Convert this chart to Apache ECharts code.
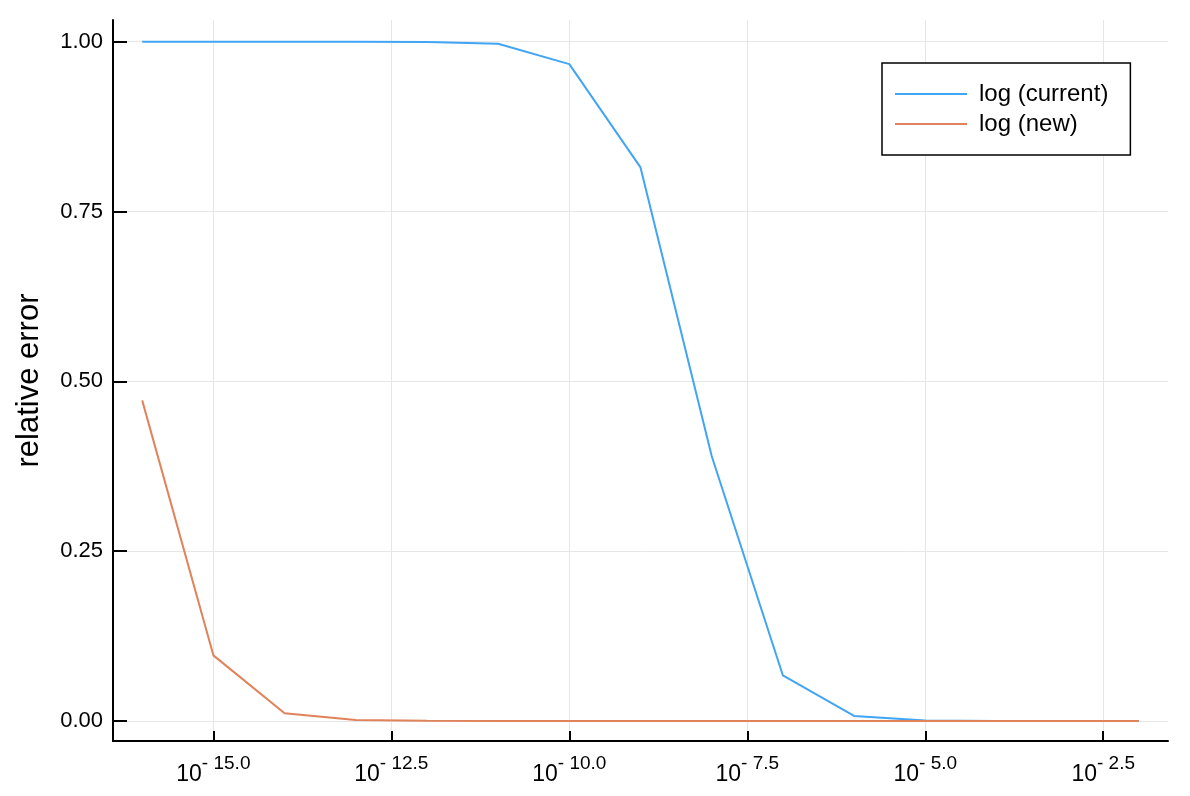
<!DOCTYPE html>
<html>
<head>
<meta charset="utf-8">
<script src="https://cdn.jsdelivr.net/npm/echarts@6/dist/echarts.min.js"></script>
<style>
html,body{margin:0;padding:0;background:#fff;}
#chart{width:1190px;height:796px;}
</style>
</head>
<body>
<div id="chart"></div>
<script>
// x values are log10 of the input (plotted as 10^x)
const exponents = [-16, -15, -14, -13, -12, -11, -10, -9, -8, -7, -6, -5, -4, -3, -2];
const logCurrent = [1.0, 1.0, 1.0, 1.0, 0.9997, 0.997, 0.967, 0.815, 0.390, 0.067, 0.0074, 0.0008, 0.00008, 0.00001, 0.000001];
const logNew = [0.472, 0.0966, 0.0113, 0.0015, 0.0002, 0.00002, 0.000002, 0.0000002, 0.00000002, 0.0, 0.0, 0.0, 0.0, 0.0, 0.0];
const seriesNames = ['log (current)', 'log (new)'];
const xTicks = [-15, -12.5, -10, -7.5, -5, -2.5];
const yTicks = [0, 0.25, 0.5, 0.75, 1.0];
const yAxisTitle = 'relative error';

const FONT = '"Liberation Sans", Arial, Helvetica, sans-serif';
const chart = echarts.init(document.getElementById('chart'), null, {renderer: 'canvas'});

const toPairs = (xs, ys) => xs.map((x, i) => [x, ys[i]]);

chart.setOption({
  animation: false,
  backgroundColor: '#ffffff',
  grid: {left: 113, top: 20, right: 22, bottom: 55, containLabel: false},
  legend: {
    orient: 'vertical',
    left: 882,
    top: 63,
    data: seriesNames,
    icon: 'rect',
    itemWidth: 72,
    itemHeight: 2,
    itemGap: 6,
    padding: [19, 22, 19, 13],
    borderColor: '#000',
    borderWidth: 1.5,
    borderRadius: 0,
    backgroundColor: '#fff',
    textStyle: {fontFamily: FONT, fontSize: 24, color: '#000', lineHeight: 24, padding: [0, 0, 0, 7]}
  },
  xAxis: {
    type: 'value',
    min: -16.41,
    max: -1.59,
    axisLine: {show: true, onZero: false, lineStyle: {color: '#000', width: 2}},
    axisTick: {show: true, inside: true, length: 10, lineStyle: {color: '#000', width: 2}, customValues: xTicks},
    splitLine: {show: true, lineStyle: {color: '#e6e6e6', width: 1}},
    axisLabel: {
      customValues: xTicks,
      margin: 13,
      formatter: v => '{b|10}{s|- ' + Math.abs(v).toFixed(1) + '}',
      rich: {
        b: {fontFamily: FONT, fontSize: 23, color: '#000', lineHeight: 32, verticalAlign: 'bottom'},
        s: {fontFamily: FONT, fontSize: 19, color: '#000', lineHeight: 19, verticalAlign: 'top'}
      }
    }
  },
  yAxis: {
    type: 'value',
    min: -0.0295,
    max: 1.032,
    name: yAxisTitle,
    nameLocation: 'middle',
    nameGap: 68,
    nameTextStyle: {fontFamily: FONT, fontSize: 31, color: '#000'},
    axisLine: {show: true, onZero: false, lineStyle: {color: '#000', width: 2}},
    axisTick: {show: true, inside: true, length: 14, lineStyle: {color: '#000', width: 2}, customValues: yTicks},
    splitLine: {show: true, lineStyle: {color: '#e6e6e6', width: 1}},
    axisLabel: {
      customValues: yTicks,
      margin: 10,
      fontFamily: FONT,
      fontSize: 22,
      color: '#000',
      formatter: v => v.toFixed(2)
    }
  },
  series: [
    {
      name: seriesNames[0],
      type: 'line',
      color: '#42a5f4',
      data: toPairs(exponents, logCurrent),
      showSymbol: false,
      symbol: 'none',
      lineStyle: {width: 2, color: '#42a5f4'},
      z: 2
    },
    {
      name: seriesNames[1],
      type: 'line',
      color: '#e0825a',
      data: toPairs(exponents, logNew),
      showSymbol: false,
      symbol: 'none',
      lineStyle: {width: 2, color: '#e0825a'},
      z: 3
    }
  ]
});
</script>
</body>
</html>
